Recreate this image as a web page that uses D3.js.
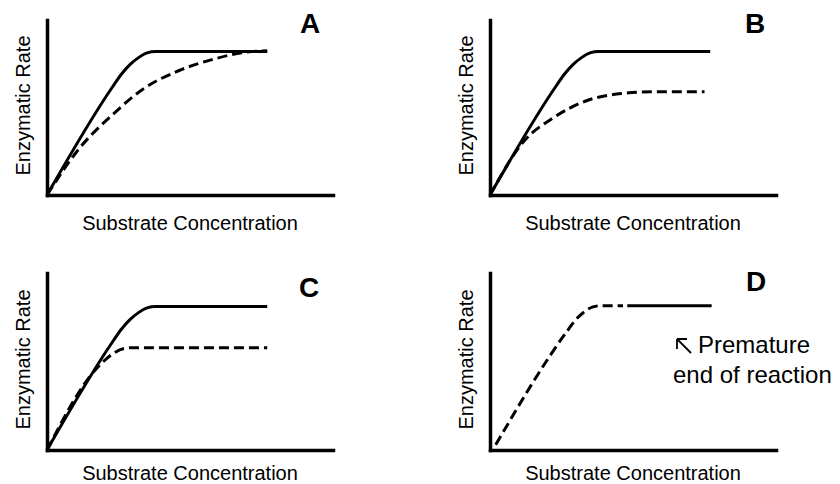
<!DOCTYPE html>
<html>
<head>
<meta charset="utf-8">
<script src="https://cdn.jsdelivr.net/npm/d3@7"></script>
<style>
  body { margin: 0; background: #fff; }
  text { font-family: "Liberation Sans", Arial, sans-serif; fill: #000; }
</style>
</head>
<body>
<svg width="840" height="484"></svg>
<script>
// values (x: 0-100 along the axis, y: 0-100 up the axis)
var panelLetters = ["A", "B", "C", "D"];
var xTitle = "Substrate Concentration";
var yTitle = "Enzymatic Rate";
var noteLines = ["Premature", "end of reaction"];

// normal reaction (solid)
var normalCurve = [[0,0],[23,62],[26,69],[29,74.5],[32,78.5],[35,81.2],[38,82],[77,82]];
// D: solid part after the dashes stop
var solidD = [[48,82.5],[77.5,82.5]];

// dashed curves
var dashedA = [[0,0],[11,26],[23,46],[34,61],[46,71],[58,77.5],[69,81.5],[77,82.5]];
var dashedB = [[0,0],[12,31],[22,44],[34,54],[46,58],[57,59],[75,59]];
var dashedC = [[0,0],[17,46],[20,51],[23.5,55.5],[27,58],[30,58.5],[77,58.5]];
var dashedD = [[2,3],[27,68],[30,74.5],[33,79],[36,81.8],[39,82.5],[46.5,82.5]];

var panelSolid = [normalCurve, normalCurve, normalCurve, solidD];
var panelDashed = [dashedA, dashedB, dashedC, dashedD];

var svg = d3.select("svg");

// layout
var originX = [47, 490, 47, 490];
var originY = [195, 195, 450, 450];
var axisTop = [20, 20, 273, 273];
var letterX = [310, 755, 309, 756];
var letterY = [33, 33, 297, 291];
var titleGap = [35, 35, 30, 30];
var xLen = 286, yLen = 175;

for (let i = 0; i < 4; i++) {
    var ox = originX[i], oy = originY[i];
    var x = d3.scaleLinear().domain([0, 100]).range([ox, ox + xLen]);
    var y = d3.scaleLinear().domain([0, 100]).range([oy, oy - yLen]);
    var yAx = d3.scaleLinear().domain([0, y.invert(axisTop[i])]).range([oy, axisTop[i]]);

    var g = svg.append("g");

    var line = d3.line()
        .x(function(d) { return x(d[0]); })
        .y(function(d) { return y(d[1]); })
        .curve(d3.curveMonotoneX);

    g.append("path")
        .attr("d", line(panelSolid[i]))
        .attr("fill", "none")
        .attr("stroke", "#000")
        .attr("stroke-width", 3);

    g.append("path")
        .attr("d", line(panelDashed[i]))
        .attr("fill", "none")
        .attr("stroke", "#000")
        .attr("stroke-width", 3)
        .attr("stroke-dasharray", "10,5");

    // axes: plain lines, no ticks
    g.append("g")
        .attr("transform", "translate(0," + oy + ")")
        .call(d3.axisBottom(x).tickValues([]).tickSizeOuter(0));
    g.append("g")
        .attr("transform", "translate(" + ox + ",0)")
        .call(d3.axisLeft(yAx).tickValues([]).tickSizeOuter(0));
    g.selectAll(".domain")
        .attr("stroke", "#000")
        .attr("stroke-width", 3.5)
        .attr("stroke-linecap", "square");

    g.append("text")
        .attr("x", ox + xLen / 2)
        .attr("y", oy + titleGap[i])
        .attr("text-anchor", "middle")
        .attr("font-size", "20px")
        .text(xTitle);

    g.append("text")
        .attr("transform", "translate(" + (ox - 17) + "," + ((oy + axisTop[i]) / 2 - 2) + ") rotate(-90)")
        .attr("text-anchor", "middle")
        .attr("font-size", "20px")
        .text(yTitle);

    g.append("text")
        .attr("x", letterX[i])
        .attr("y", letterY[i])
        .attr("text-anchor", "middle")
        .attr("font-size", "28px")
        .attr("font-weight", "bold")
        .text(panelLetters[i]);
}

// note in panel D, with its small arrow pointing up-left
svg.append("path")
    .attr("d", "M691,353L677,339M677,339H687M677,339V349")
    .attr("fill", "none")
    .attr("stroke", "#000")
    .attr("stroke-width", 1.8);
svg.append("text")
    .attr("x", 698).attr("y", 353)
    .attr("font-size", "24px")
    .text(noteLines[0]);
svg.append("text")
    .attr("x", 673).attr("y", 383)
    .attr("font-size", "24px")
    .text(noteLines[1]);
</script>
</body>
</html>
